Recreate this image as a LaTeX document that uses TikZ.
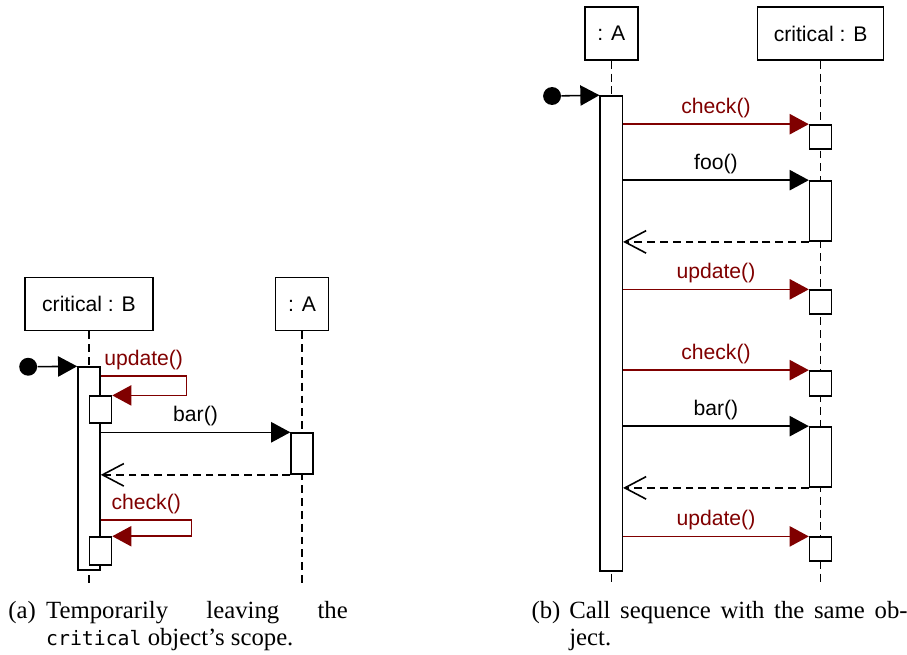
\documentclass[tikz,border=0pt]{standalone}
\usepackage{fontspec}
\setmainfont{Liberation Serif}
\setsansfont{Liberation Sans}
\setmonofont[Scale=0.8]{DejaVu Sans Mono}
\usetikzlibrary{arrows.meta}
\definecolor{callred}{RGB}{128,0,0}
\tikzset{
  obj/.style={draw,line width=0.7pt,minimum height=0.83cm,inner sep=0pt},
  act/.style={draw,fill=white,line width=0.7pt,minimum width=0.344cm,inner sep=0pt},
  life/.style={draw,line width=0.7pt,dash pattern=on 3.5pt off 2.2pt},
  call/.style={-{Triangle[length=8.5pt,width=9pt]},line width=0.7pt},
  hot/.style={call,color=callred},
  ret/.style={-{Straight Barb[length=9.5pt,width=10pt]},line width=0.7pt,dash pattern=on 3.5pt off 2.2pt},
  start/.style={circle,fill,inner sep=0pt,minimum size=0.28cm},
  msg/.style={above=1.5pt,inner sep=1pt},
  subcap/.style={anchor=north west,inner sep=0pt,align=justify,font=\rmfamily\fontsize{11}{12}\selectfont}
}

\begin{document}
\begin{tikzpicture}[font=\sffamily\fontsize{9.4}{11}\selectfont]
\useasboundingbox (0,0) rectangle (14.17,-10.23);
% (a) critical object calls out to A
\node[obj,minimum width=2cm] (critL) at (1.39,-4.75) {critical : B};
\node[obj,minimum width=0.83cm] (aL) at (4.72,-4.75) {: A};
\draw[life] (critL.south) -- ++(0,-3.95);
\draw[life] (aL.south) -- ++(0,-3.95);
\node[act,minimum height=3.17cm] (runL) at (1.39,-7.32) {};
\node[start] (dotL) at (0.44,-5.73) {};
\draw[call] (dotL) -- (runL.north west);
\node[act,minimum height=0.42cm] (updL) at (1.57,-6.40) {};
\draw[hot] (runL.east |- 0,-5.875) -- node[msg]{update()} ++(1.34,0) |- (updL.north east);
\node[act,minimum height=0.64cm] (barA) at (4.72,-7.086) {};
\draw[call] (runL.east |- barA.north) -- node[msg]{bar()} (barA.north west);
\draw[ret] (barA.south west) -- (runL.east |- barA.south);
\node[act,minimum height=0.44cm] (chkL) at (1.57,-8.61) {};
\draw[hot] (runL.east |- 0,-8.125) -- node[msg]{check()} ++(1.42,0) |- (chkL.north east);
\node[subcap,text width=5.30cm] (capA) at (0.125,-9.39)
  {\hangindent=0.59cm\hangafter=1\noindent\makebox[0.59cm][l]{(a)}Temporarily leaving the\linebreak \texttt{critical} object's scope.\par};

% (b) A calls the same object repeatedly
\node[obj,minimum width=0.83cm] (aR) at (9.55,-0.523) {: A};
\node[obj,minimum width=1.97cm] (critR) at (12.82,-0.523) {critical : B};
\draw[life] (aR.south) -- ++(0,-8.17);
\draw[life] (critR.south) -- ++(0,-8.17);
\node[act,minimum height=7.42cm] (runR) at (9.55,-5.21) {};
\node[start] (dotR) at (8.625,-1.5) {};
\draw[call] (dotR) -- (runR.north west);
\node[act,minimum height=0.375cm] (chk1) at (12.82,-2.14) {};
\draw[hot] (runR.east |- chk1.north) -- node[msg]{check()} (chk1.north west);
\node[act,minimum height=0.94cm] (foo) at (12.82,-3.297) {};
\draw[call] (runR.east |- foo.north) -- node[msg]{foo()} (foo.north west);
\draw[ret] (foo.south west) -- (runR.east |- foo.south);
\node[act,minimum height=0.375cm] (upd1) at (12.82,-4.72) {};
\draw[hot] (runR.east |- upd1.north) -- node[msg]{update()} (upd1.north west);
\node[act,minimum height=0.39cm] (chk2) at (12.82,-5.99) {};
\draw[hot] (runR.east |- chk2.north) -- node[msg]{check()} (chk2.north west);
\node[act,minimum height=0.94cm] (barB) at (12.82,-7.14) {};
\draw[call] (runR.east |- barB.north) -- node[msg]{bar()} (barB.north west);
\draw[ret] (barB.south west) -- (runR.east |- barB.south);
\node[act,minimum height=0.375cm] (upd2) at (12.82,-8.58) {};
\draw[hot] (runR.east |- upd2.north) -- node[msg]{update()} (upd2.north west);
\node[subcap,text width=5.875cm] (capB) at (8.297,-9.39)
  {\hangindent=0.59cm\hangafter=1\noindent\makebox[0.59cm][l]{(b)}Call sequence with the same ob-\linebreak ject.\par};
\end{tikzpicture}
\end{document}
